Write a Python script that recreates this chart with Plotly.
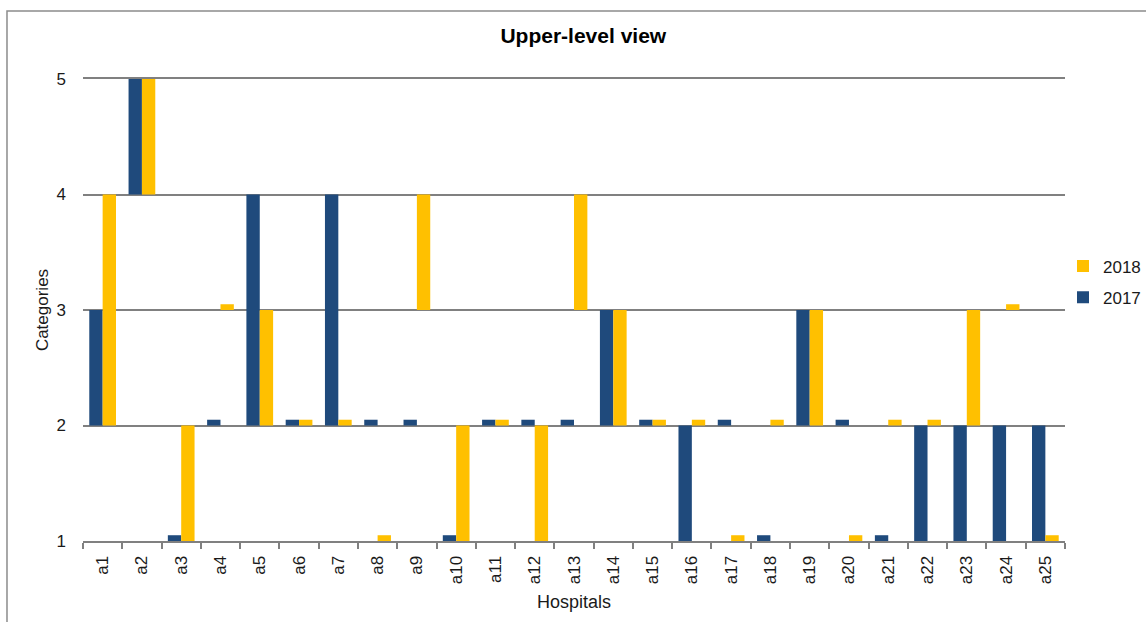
import plotly.graph_objects as go

hospitals = [f"a{i}" for i in range(1, 26)]

# 2017: bar base and bar top (stub bars of 0.05 mark "unchanged" level)
base_2017 = [2, 4, 1, 2, 2, 2, 2, 2, 2, 1, 2, 2, 2, 2, 2, 1, 2, 1, 2, 2, 1, 1, 1, 1, 1]
top_2017 = [3, 5, 1.05, 2.05, 4, 2.05, 4, 2.05, 2.05, 1.05, 2.05, 2.05, 2.05, 3, 2.05, 2, 2.05, 1.05, 3, 2.05, 1.05, 2, 2, 2, 2]

# 2018
base_2018 = [2, 4, 1, 3, 2, 2, 2, 1, 3, 1, 2, 1, 3, 2, 2, 2, 1, 2, 2, 1, 2, 2, 2, 3, 1]
top_2018 = [4, 5, 2, 3.05, 3, 2.05, 2.05, 1.05, 4, 2, 2.05, 2, 4, 3, 2.05, 2.05, 1.05, 2.05, 3, 1.05, 2.05, 2.05, 3, 3.05, 1.05]

y_ticks = [1, 2, 3, 4, 5]

NAVY = "#1F4A7C"
GOLD = "#FFC000"
FONT = "Liberation Sans, Arial, sans-serif"
TXT = "#1a1a1a"

fig = go.Figure()
fig.add_trace(go.Bar(
    name="2017", x=hospitals, legendgroup="g2017", legendrank=2,
    y=[t - b for t, b in zip(top_2017, base_2017)], base=base_2017,
    marker=dict(color=NAVY, line=dict(width=0)),
))
fig.add_trace(go.Bar(
    name="2018", x=hospitals, legendgroup="g2018", legendrank=1,
    y=[t - b for t, b in zip(top_2018, base_2018)], base=base_2018,
    marker=dict(color=GOLD, line=dict(width=0)),
))

fig.update_layout(
    width=1146, height=622,
    margin=dict(l=83, r=81, t=79, b=81, autoexpand=False),
    paper_bgcolor="white", plot_bgcolor="white",
    barmode="group", bargap=0.32, bargroupgap=0,
    font=dict(family=FONT, color=TXT),
    title=dict(text="<b>Upper-level view</b>", x=0.509, xanchor="center",
               y=1 - 36 / 622, yanchor="middle", yref="container",
               font=dict(size=21, color="#000000", family=FONT)),
    legend=dict(xref="container", yref="container", x=1063 / 1146, xanchor="left",
                y=1 - 282 / 622, yanchor="middle",
                traceorder="grouped", font=dict(size=17, color=TXT),
                bgcolor="rgba(0,0,0,0)", itemwidth=30, tracegroupgap=6),
    showlegend=True,
    shapes=[dict(type="rect", xref="paper", yref="paper",
                 x0=-0.0774, x1=1.2, y0=-0.3, y1=1.147,
                 line=dict(color="#8c8c8c", width=1.5), fillcolor="rgba(0,0,0,0)",
                 layer="below")],
)

fig.update_xaxes(
    type="category", showgrid=False,
    showline=True, linecolor="#808080", linewidth=2, mirror=True,
    ticks="outside", tickson="boundaries", ticklen=6, tickcolor="#808080", tickwidth=1.5,
    tickangle=-90, tickfont=dict(size=17, color=TXT), ticklabelstandoff=6,
    title=dict(text="Hospitals", font=dict(size=18, color=TXT), standoff=12),
)
fig.update_yaxes(
    range=[1, 5], tickvals=y_ticks, ticktext=[str(v) for v in y_ticks],
    showgrid=True, gridcolor="#808080", gridwidth=1.6,
    showline=False, zeroline=False, ticks="",
    ticklabelstandoff=16, tickfont=dict(size=17, color=TXT),
    title=dict(text="Categories", font=dict(size=17, color=TXT), standoff=3),
)

fig.write_html("out.html")
